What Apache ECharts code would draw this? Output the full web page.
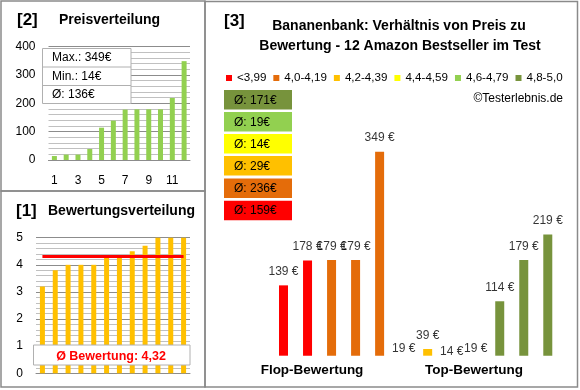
<!DOCTYPE html>
<html>
<head>
<meta charset="utf-8">
<script src="https://cdn.jsdelivr.net/npm/echarts@6/dist/echarts.min.js"></script>
<style>
html,body{margin:0;padding:0;background:#fff;}
#c{width:580px;height:390px;}
</style>
</head>
<body>
<div id="c"></div>
<script>
// ---- data ----
const products = ['1','2','3','4','5','6','7','8','9','10','11','12'];
const prices = [139, 178, 179, 179, 349, 19, 39, 14, 19, 114, 179, 219];
const ratings = [3.2, 3.8, 4.0, 4.0, 4.0, 4.3, 4.3, 4.5, 4.7, 5.0, 5.0, 5.0];
const priceDistribution = [14, 19, 19, 39, 114, 139, 178, 179, 179, 179, 219, 349];
const ratingDistribution = [3.2, 3.8, 4.0, 4.0, 4.0, 4.3, 4.3, 4.5, 4.7, 5.0, 5.0, 5.0];
const distCategories = ['1','2','3','4','5','6','7','8','9','10','11','12'];
const bandNames = ['<3,99', '4,0-4,19', '4,2-4,39', '4,4-4,59', '4,6-4,79', '4,8-5,0'];
const bandLower = [0, 4.0, 4.2, 4.4, 4.6, 4.8];
const bandColors = ['#FF0000', '#E46C0A', '#FFC000', '#FFFF00', '#92D050', '#77933C'];
const groupLabels = ['Flop-Bewertung', 'Top-Bewertung'];
const priceTicks = [0, 100, 200, 300, 400];
const ratingTicks = [0, 1, 2, 3, 4, 5];

// ---- derived ----
function bandOf(r) { let b = 0; bandLower.forEach((l, i) => { if (r >= l) b = i; }); return b; }
const bandIdx = ratings.map(bandOf);
const bandAvg = bandNames.map((n, b) => {
  const v = prices.filter((p, i) => bandIdx[i] === b);
  return v.length ? Math.round(v.reduce((a, c) => a + c, 0) / v.length) : 0;
});
const pMax = Math.max(...prices), pMin = Math.min(...prices);
const pAvg = Math.round(prices.reduce((a, c) => a + c, 0) / prices.length);
const rAvg = Math.round(ratings.reduce((a, c) => a + c, 0) / ratings.length * 100) / 100;
const rAvgText = rAvg.toFixed(2).replace('.', ',');

const FONT = 'Liberation Sans, Arial, sans-serif';
const chart = echarts.init(document.getElementById('c'), null, {renderer: 'canvas'});

const bandSeries = bandNames.map((name, b) => ({
  name: name, type: 'bar', xAxisIndex: 2, yAxisIndex: 2,
  barWidth: 9, barGap: '-100%', clip: true,
  itemStyle: {color: bandColors[b]},
  data: prices.map((p, i) => bandIdx[i] === b ? p : null),
  silent: true
}));

const border = '#8a8a8a';
const gridMajor = '#8c8c8c', gridMinor = '#c0c0c0';

function txt(x, y, text, size, opts) {
  return {
    type: 'text', z: 110, x: x, y: y,
    style: Object.assign({text: text, font: (opts && opts.bold ? 'bold ' : '') + size + 'px ' + FONT,
      fill: '#000', align: 'left', verticalAlign: 'middle'}, (opts && opts.style) || {})
  };
}

const avgBoxes = [];
const boxOrder = [5, 4, 3, 2, 1, 0];
const boxTop = [90, 112, 134, 156, 178.5, 200.7];
boxOrder.forEach((b, k) => {
  avgBoxes.push({type: 'rect', z: 100, shape: {x: 224, y: boxTop[k], width: 68, height: 19.5},
    style: {fill: bandColors[b]}});
  avgBoxes.push(txt(234, boxTop[k] + 10.2, 'Ø: ' + bandAvg[b] + '€', 12));
});

const option = {
  animation: false,
  textStyle: {fontFamily: FONT},
  grid: [
    {left: 48.5, top: 46.7, width: 141.5, height: 113.3},
    {left: 36, top: 237.7, width: 154, height: 135.6},
    {left: 271.5, top: 119.2, width: 288.3, height: 236.5}
  ],
  legend: {
    data: bandNames, left: 226, top: 72, icon: 'rect', itemWidth: 6, itemHeight: 6,
    itemGap: 7, padding: 0, textStyle: {fontSize: 11.6, color: '#000', fontFamily: FONT},
    selectedMode: false
  },
  xAxis: [
    {gridIndex: 0, type: 'category', data: distCategories,
      axisLine: {show: true, lineStyle: {color: gridMajor}}, axisTick: {show: false},
      axisLabel: {interval: 1, fontSize: 12, color: '#000', margin: 15}},
    {gridIndex: 1, type: 'category', data: distCategories,
      axisLine: {show: true, lineStyle: {color: gridMajor}}, axisTick: {show: false},
      axisLabel: {show: false}},
    {gridIndex: 2, type: 'category', data: products, show: false}
  ],
  yAxis: [
    {gridIndex: 0, type: 'value', min: priceTicks[0], max: priceTicks[priceTicks.length - 1], interval: 100,
      axisLine: {show: false}, axisTick: {show: false},
      axisLabel: {fontSize: 12, color: '#000', margin: 13},
      splitLine: {lineStyle: {color: gridMajor}},
      minorTick: {show: false, splitNumber: 5},
      minorSplitLine: {show: true, lineStyle: {color: gridMinor}}},
    {gridIndex: 1, type: 'value', min: ratingTicks[0], max: ratingTicks[ratingTicks.length - 1], interval: 1,
      axisLine: {show: false}, axisTick: {show: false},
      axisLabel: {fontSize: 12, color: '#000', margin: 13},
      splitLine: {lineStyle: {color: gridMajor}},
      minorTick: {show: false, splitNumber: 5},
      minorSplitLine: {show: true, lineStyle: {color: gridMinor}}},
    {gridIndex: 2, type: 'value', min: 28.5, max: 400, show: false, splitLine: {show: false}}
  ],
  series: [
    {type: 'bar', xAxisIndex: 0, yAxisIndex: 0, data: priceDistribution, barWidth: 5,
      itemStyle: {color: '#92D050'}, silent: true},
    {type: 'bar', xAxisIndex: 1, yAxisIndex: 1, data: ratingDistribution, barWidth: 5,
      itemStyle: {color: '#FFC000'}, silent: true,
      markLine: {silent: true, symbol: 'none', label: {show: false},
        lineStyle: {color: '#FF0000', width: 3, type: 'solid'},
        data: [[{coord: [0, rAvg]}, {coord: [distCategories.length - 1, rAvg]}]]}}
  ].concat(bandSeries).concat([
    {type: 'scatter', xAxisIndex: 2, yAxisIndex: 2, data: prices, symbolSize: 1, clip: false,
      itemStyle: {color: 'rgba(0,0,0,0)'}, silent: true, z: 5,
      label: {show: true, position: 'top', distance: 7, fontSize: 12, color: '#000', fontFamily: FONT,
        formatter: p => p.value + ' €'}}
  ]),
  graphic: [
    // panel borders
    {type: 'rect', z: 120, shape: {x: 1, y: 1, width: 204, height: 190}, style: {fill: null, stroke: border, lineWidth: 1.5}},
    {type: 'rect', z: 120, shape: {x: 1, y: 191, width: 204, height: 196}, style: {fill: null, stroke: border, lineWidth: 1.5}},
    {type: 'rect', z: 120, shape: {x: 205, y: 1.5, width: 372.5, height: 385.5}, style: {fill: null, stroke: border, lineWidth: 1.5}},
    // panel [2]
    txt(17, 20, '[2]', 17, {bold: true}),
    txt(59, 20, 'Preisverteilung', 14, {bold: true}),
    {type: 'rect', z: 100, shape: {x: 42.5, y: 48.5, width: 88.5, height: 55}, style: {fill: '#fff', stroke: '#b0b0b0', lineWidth: 1}},
    {type: 'line', z: 101, shape: {x1: 42.5, y1: 67, x2: 131, y2: 67}, style: {stroke: '#b0b0b0', lineWidth: 1}},
    {type: 'line', z: 101, shape: {x1: 42.5, y1: 85.5, x2: 131, y2: 85.5}, style: {stroke: '#b0b0b0', lineWidth: 1}},
    txt(52, 58, 'Max.: ' + pMax + '€', 12),
    txt(52, 77, 'Min.: ' + pMin + '€', 12),
    txt(52, 95, 'Ø: ' + pAvg + '€', 12),
    // panel [1]
    txt(16, 211, '[1]', 17, {bold: true}),
    txt(48, 211, 'Bewertungsverteilung', 14, {bold: true}),
    {type: 'rect', z: 100, shape: {x: 33.5, y: 345, width: 156.5, height: 20}, style: {fill: '#fff', stroke: '#b0b0b0', lineWidth: 1}},
    txt(111, 356.5, 'Ø Bewertung: ' + rAvgText, 12.5, {bold: true, style: {fill: '#FF0000', align: 'center'}}),
    // panel [3]
    txt(224, 21, '[3]', 17, {bold: true}),
    txt(399, 26, 'Bananenbank: Verhältnis von Preis zu', 14, {bold: true, style: {align: 'center'}}),
    txt(400, 46, 'Bewertung - 12 Amazon Bestseller im Test', 14, {bold: true, style: {align: 'center'}}),
    txt(563, 98.5, '©Testerlebnis.de', 12, {style: {align: 'right'}}),
    txt(312, 370, groupLabels[0], 13.5, {bold: true, style: {align: 'center'}}),
    txt(474, 370, groupLabels[1], 13.5, {bold: true, style: {align: 'center'}})
  ].concat(avgBoxes)
};
chart.setOption(option);
</script>
</body>
</html>
